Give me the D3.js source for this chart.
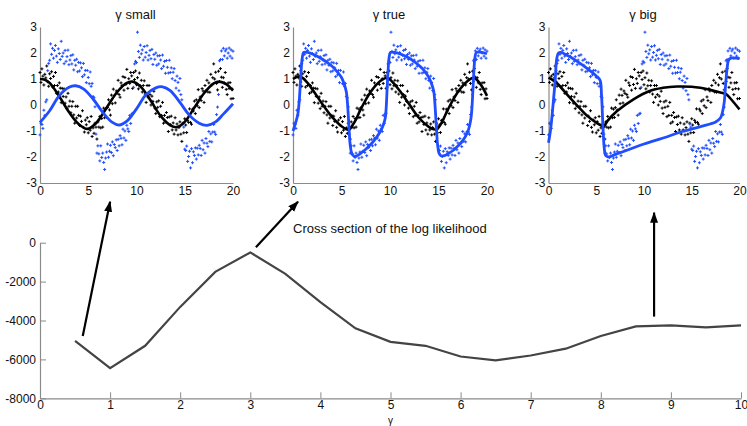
<!DOCTYPE html>
<html>
<head>
<meta charset="utf-8">
<script src="https://cdn.jsdelivr.net/npm/d3@7"></script>
<style>
  body { margin: 0; background: #fff; }
  text { font-family: "Liberation Sans", Arial, sans-serif; fill: #111; }
</style>
</head>
<body>
<div id="chart"></div>
<script>
// sampling grid of the observations, t = 0 .. 20 every 0.1
var sampleTimes = d3.range(0, 201).map(function(i) { return i / 10; });

// noisy observations of V (blue) and R (black), same in all three panels
var obsV = [
  -1.15,-0.70,-0.75,-0.90,-0.20,-0.40,0.12,0.20,1.32,1.60,
  1.72,2.35,1.95,2.18,1.80,2.10,2.29,1.88,1.64,2.16,
  1.98,1.75,2.45,1.87,2.00,1.59,2.10,1.68,1.86,2.11,
  1.55,1.73,1.90,1.58,1.93,1.35,1.72,1.53,1.76,1.28,
  1.64,1.31,1.62,1.43,1.09,1.60,1.16,1.33,0.86,1.33,
  1.06,0.82,1.27,0.72,0.83,0.33,0.28,-0.07,-1.12,-1.85,
  -1.57,-1.88,-2.15,-1.57,-2.02,-1.85,-2.21,-2.48,-2.04,-1.81,
  -1.50,-2.01,-1.78,-1.55,-1.83,-1.42,-1.95,-1.52,-1.64,-1.34,
  -1.75,-1.32,-1.57,-1.18,-1.28,-1.53,-0.93,-1.27,-1.00,-1.36,
  -0.78,-0.92,-1.02,-0.40,-0.71,-0.35,-0.32,0.68,1.58,1.68,
  1.63,2.80,2.06,1.83,2.30,1.97,2.12,1.73,2.25,1.84,
  2.02,2.28,1.73,1.91,2.10,1.78,2.14,1.56,1.94,1.76,
  2.00,1.53,1.89,1.58,1.90,1.73,1.40,1.92,1.49,1.68,
  1.22,1.71,1.45,1.23,1.72,1.25,1.43,1.01,1.26,1.40,
  0.94,0.65,1.11,0.87,0.55,1.02,0.40,0.20,-0.73,-0.85,
  -1.70,-1.75,-1.58,-2.17,-1.98,-1.78,-2.42,-1.68,-2.22,-1.80,
  -1.94,-1.65,-2.08,-1.66,-1.92,-1.55,-1.67,-1.94,-1.36,-1.72,
  -1.46,-1.85,-1.29,-1.47,-1.60,-1.02,-1.40,-1.11,-1.42,-1.04,
  -0.75,-1.04,-1.13,-0.37,-0.08,0.40,1.70,1.75,2.08,1.75,
  2.18,1.89,2.08,2.15,1.80,2.00,2.19,1.88,2.12,1.80,
  2.07
];
var obsR = [
  1.25,0.87,1.39,1.11,0.77,1.18,1.04,1.50,0.89,0.72,
  1.20,1.02,1.28,0.69,1.10,0.75,1.25,0.45,0.75,0.50,
  0.85,0.65,0.09,0.64,0.33,0.62,0.07,0.31,-0.14,0.45,
  -0.05,0.15,-0.30,-0.05,0.13,-0.38,-0.70,-0.05,-0.50,-0.05,
  -0.40,-0.79,-0.43,-0.63,-0.22,-0.86,-1.04,-0.58,-0.76,-0.49,
  -1.07,-0.64,-0.97,-0.44,-1.21,-0.88,-1.09,-0.70,-0.85,-1.31,
  -0.65,-0.85,-0.44,-0.88,-0.52,-0.85,-0.12,-0.49,-0.16,-0.48,
  -0.10,0.20,-0.19,-0.39,0.38,0.05,0.61,0.37,0.08,0.54,
  0.45,0.95,0.40,0.30,0.85,0.75,1.09,0.57,1.06,0.79,
  1.37,0.64,1.01,0.83,1.25,1.12,0.64,1.25,0.98,1.31,
  0.78,1.05,0.62,1.23,0.74,0.95,0.50,0.75,0.93,0.42,
  0.10,0.75,0.30,0.75,0.40,0.00,0.34,0.14,0.53,-0.12,
  -0.33,0.12,-0.09,0.16,-0.45,-0.05,-0.40,0.10,-0.70,-0.40,
  -0.65,-0.29,-0.48,-1.02,-0.46,-0.75,-0.43,-0.96,-0.69,-1.12,
  -0.49,-0.96,-0.73,-1.15,-0.87,-0.65,-1.12,-1.40,-0.70,-1.07,
  -0.53,-0.77,-1.06,-0.59,-0.67,-0.15,-0.67,-0.74,-0.16,-0.23,
  0.15,-0.33,0.20,-0.03,0.59,-0.10,0.31,0.17,0.63,0.54,
  0.10,0.75,0.55,0.95,0.50,0.85,0.49,1.18,0.77,1.05,
  1.58,1.00,1.26,0.83,0.58,1.30,0.90,1.40,1.07,0.68,
  1.05,0.85,1.25,0.60,0.40,0.85,0.63,0.86,0.24,0.62,
  0.25
];

// fitted trajectories [t, value] for each gamma
var fitSmallV = [[0,-0.67],[1,-0.22],[2,0.36],[3,0.68],[3.7,0.74],[4.5,0.62],[5.5,0.23],[6.5,-0.28],[7.5,-0.67],[8.2,-0.77],[9,-0.62],[10,-0.15],[11,0.4],[12,0.66],[12.7,0.7],[13.5,0.55],[14.5,0.1],[15.5,-0.4],[16.5,-0.7],[17.3,-0.78],[18.2,-0.65],[19,-0.35],[20,0.05]];
var fitSmallR = [[0,1.0],[0.5,0.97],[1,0.85],[2,0.33],[3,-0.27],[4,-0.73],[4.9,-0.92],[5.8,-0.7],[7,-0.05],[8,0.5],[9,0.85],[9.6,0.9],[10.5,0.68],[11.5,0.15],[12.5,-0.42],[13.5,-0.78],[14.2,-0.85],[15,-0.65],[16,-0.1],[17,0.45],[18,0.83],[18.6,0.9],[19.3,0.8],[20,0.55]];
var fitTrueV = [[0,-1.0],[0.3,-0.65],[0.5,-0.35],[0.65,0.2],[0.8,1.1],[0.95,1.8],[1.1,2.02],[1.5,2.02],[2,1.96],[3,1.77],[4,1.5],[4.5,1.3],[5,1.06],[5.3,0.78],[5.5,0.5],[5.6,0.15],[5.7,-0.4],[5.8,-1.05],[5.9,-1.55],[6.05,-1.85],[6.3,-1.97],[6.6,-1.95],[7,-1.85],[7.5,-1.7],[8,-1.52],[8.5,-1.3],[9,-1.02],[9.3,-0.78],[9.5,-0.52],[9.6,-0.15],[9.7,0.6],[9.8,1.3],[9.9,1.8],[10.05,2.02],[10.5,2.02],[11,1.97],[12,1.8],[13,1.52],[13.5,1.33],[14,1.06],[14.3,0.8],[14.5,0.55],[14.6,0.2],[14.7,-0.35],[14.8,-1.0],[14.9,-1.5],[15.05,-1.85],[15.3,-1.96],[15.6,-1.95],[16,-1.87],[16.5,-1.75],[17,-1.58],[17.5,-1.37],[18,-1.05],[18.2,-0.8],[18.35,-0.5],[18.45,-0.1],[18.55,0.6],[18.65,1.3],[18.75,1.8],[18.9,2.02],[19.3,2.03],[20,1.97]];
var fitTrueR = [[0,1.0],[0.7,1.1],[1.5,0.85],[2,0.6],[3,0.05],[4,-0.45],[5,-0.82],[5.5,-0.93],[5.8,-0.95],[6.1,-0.8],[6.5,-0.55],[7,-0.15],[8,0.5],[9,0.92],[9.7,1.05],[10,0.98],[11,0.55],[12,0.02],[13,-0.5],[14,-0.84],[14.5,-0.93],[14.8,-0.95],[15.1,-0.82],[15.5,-0.55],[16,-0.15],[17,0.5],[18,0.92],[18.6,1.05],[19,0.95],[19.5,0.7],[20,0.35]];
var fitBigV = [[0,-1.45],[0.2,-1.0],[0.35,-0.5],[0.5,0.1],[0.7,0.95],[0.87,1.8],[1.05,2.0],[1.3,2.02],[2,1.9],[3,1.68],[4,1.42],[5,1.12],[5.4,0.95],[5.55,0.4],[5.65,-0.4],[5.75,-1.2],[5.85,-1.7],[6.0,-1.95],[6.3,-2.0],[7,-1.9],[8,-1.77],[10,-1.5],[12,-1.27],[14,-1.02],[16,-0.82],[17.5,-0.65],[18,-0.5],[18.2,-0.3],[18.4,0.1],[18.55,0.8],[18.7,1.4],[18.85,1.72],[19.1,1.8],[20,1.78]];
var fitBigR = [[0,1.05],[0.5,0.95],[1,0.8],[2,0.38],[3,-0.02],[4,-0.4],[5,-0.68],[5.6,-0.8],[5.8,-0.82],[6.2,-0.6],[7.15,-0.24],[8.9,0.22],[10.65,0.55],[12,0.66],[13.45,0.71],[15,0.7],[15.9,0.66],[17,0.58],[18,0.48],[18.6,0.42],[19.05,0.25],[20,-0.17]];

var panelTitles = ["\u03b3 small", "\u03b3 true", "\u03b3 big"];
var smallXTicks = [0, 5, 10, 15, 20];
var smallYTicks = [-3, -2, -1, 0, 1, 2, 3];

// cross section of the log likelihood
var gammaGrid = [0.5,1,1.5,2,2.5,3,3.5,4,4.5,5,5.5,6,6.5,7,7.5,8,8.5,9,9.5,10];
var logLik = [-5050,-6450,-5300,-3300,-1500,-500,-1600,-3050,-4400,-5100,-5300,-5850,-6050,-5800,-5450,-4800,-4300,-4250,-4350,-4250];
var mainXTicks = [0,1,2,3,4,5,6,7,8,9,10];
var mainYTicks = [-8000,-6000,-4000,-2000,0];

// arrows from the curve up to the panels, in (gamma, loglik) units
var arrowFrom = [[0.61,-4800],[3.08,-240],[8.76,-3800]];
var arrowTo = [[1.0,2110],[3.68,2110],[8.76,1545]];

var blue = "#1f4dff", axisGrey = "#8a8a8a";
var plainNum = function(d) { return String(d); };

var svg = d3.select("#chart").append("svg")
    .attr("width", 747)
    .attr("height", 426);

// ---- the three small panels ----
var panelSpans = [[40, 233], [293, 487], [548.5, 739.5]];
var fits = [[fitSmallV, fitSmallR], [fitTrueV, fitTrueR], [fitBigV, fitBigR]];

panelSpans.forEach(function(span, i) {
    var x = d3.scaleLinear().domain([0, 20]).range(span);
    var y = d3.scaleLinear().domain([-3, 3]).range([183, 27]);
    var g = svg.append("g");

    var xa = g.append("g")
        .attr("transform", "translate(0,183)")
        .call(d3.axisBottom(x).tickValues(smallXTicks).tickFormat(plainNum).tickSize(0).tickPadding(3));
    var ya = g.append("g")
        .attr("transform", "translate(" + span[0] + ",0)")
        .call(d3.axisLeft(y).tickValues(smallYTicks).tickFormat(plainNum).tickSize(0).tickPadding(3));
    [xa, ya].forEach(function(a) {
        a.select(".domain").attr("stroke", axisGrey).attr("stroke-width", 1.2);
        a.selectAll("text").style("font-size", "12px").attr("fill", "#111");
    });

    var plus = "M-1.5,0H1.5M0,-1.5V1.5";
    g.append("g").selectAll("path")
        .data(obsR)
        .enter().append("path")
        .attr("d", plus)
        .attr("transform", function(d, k) { return "translate(" + x(sampleTimes[k]) + "," + y(d) + ")"; })
        .attr("stroke", "#000")
        .attr("stroke-width", 1);
    g.append("g").selectAll("path")
        .data(obsV)
        .enter().append("path")
        .attr("d", plus)
        .attr("transform", function(d, k) { return "translate(" + x(sampleTimes[k]) + "," + y(d) + ")"; })
        .attr("stroke", blue)
        .attr("stroke-width", 1);

    var line = d3.line()
        .x(function(d) { return x(d[0]); })
        .y(function(d) { return y(d[1]); })
        .curve(d3.curveCatmullRom.alpha(0.5));
    g.append("path").datum(fits[i][1])
        .attr("d", line).attr("fill", "none")
        .attr("stroke", "#000").attr("stroke-width", 2.6);
    g.append("path").datum(fits[i][0])
        .attr("d", line).attr("fill", "none")
        .attr("stroke", blue).attr("stroke-width", 2.8);

    g.append("text")
        .attr("x", (span[0] + span[1]) / 2 - 1)
        .attr("y", 18.5)
        .attr("text-anchor", "middle")
        .style("font-size", "13px")
        .text(panelTitles[i]);
});

// ---- main log likelihood plot ----
var mx = d3.scaleLinear().domain([0, 10]).range([40, 741]);
var my = d3.scaleLinear().domain([-8000, 0]).range([398.3, 242.7]);

var gx = svg.append("g")
    .attr("transform", "translate(0,398.3)")
    .call(d3.axisBottom(mx).tickValues(mainXTicks).tickFormat(plainNum).tickSizeInner(-6).tickSizeOuter(0).tickPadding(2));
var gy = svg.append("g")
    .attr("transform", "translate(40,0)")
    .call(d3.axisLeft(my).tickValues(mainYTicks).tickFormat(plainNum).tickSizeInner(-6).tickSizeOuter(0).tickPadding(4));
[gx, gy].forEach(function(a) {
    a.select(".domain").attr("stroke", axisGrey).attr("stroke-width", 1.2);
    a.selectAll(".tick line").attr("stroke", axisGrey);
    a.selectAll("text").style("font-size", "12px").attr("fill", "#111");
});

svg.append("path")
    .datum(gammaGrid)
    .attr("d", d3.line()
        .x(function(d) { return mx(d); })
        .y(function(d, k) { return my(logLik[k]); }))
    .attr("fill", "none")
    .attr("stroke", "#444")
    .attr("stroke-width", 2.2);

svg.append("text")
    .attr("x", mx(5))
    .attr("y", 423.5)
    .attr("text-anchor", "middle")
    .style("font-size", "10px")
    .text("\u03b3");

svg.append("text")
    .attr("x", mx(3.61))
    .attr("y", my(500))
    .style("font-size", "13px")
    .text("Cross section of the log likelihood");

// arrow heads
svg.append("defs").append("marker")
    .attr("id", "head")
    .attr("markerUnits", "userSpaceOnUse")
    .attr("markerWidth", 12).attr("markerHeight", 10)
    .attr("refX", 10).attr("refY", 4)
    .attr("orient", "auto")
    .append("path")
    .attr("d", "M0,0L11,4L0,8Z")
    .attr("fill", "#000");

svg.append("g").selectAll("line")
    .data(arrowFrom)
    .enter().append("line")
    .attr("x1", function(d) { return mx(d[0]); })
    .attr("y1", function(d) { return my(d[1]); })
    .attr("x2", function(d, k) { return mx(arrowTo[k][0]); })
    .attr("y2", function(d, k) { return my(arrowTo[k][1]); })
    .attr("stroke", "#000")
    .attr("stroke-width", 2.2)
    .attr("marker-end", "url(#head)");
</script>
</body>
</html>
